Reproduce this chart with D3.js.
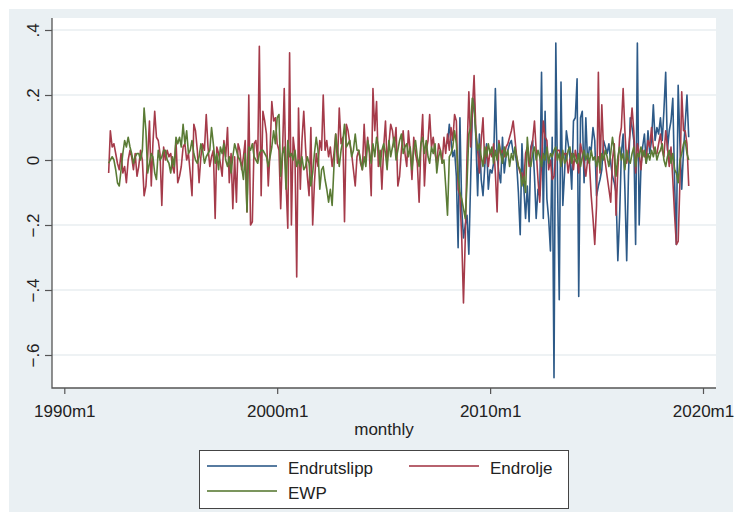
<!DOCTYPE html>
<html>
<head>
<meta charset="utf-8">
<script src="https://cdn.jsdelivr.net/npm/d3@7"></script>
<style>
  body { margin: 0; background: #ffffff; }
  text { font-family: "Liberation Sans", Arial, sans-serif; fill: #222; }
</style>
</head>
<body>
<div id="chart"></div>
<script>
const width = 736;
const height = 512;
const plot = { left: 52, right: 716, top: 18, bottom: 388 };

// DATA
const seriesNames = ["Endrutslipp", "Endrolje", "EWP"];
const seriesColors = ["#2d5a88", "#a53b4a", "#5a7b35"];
const yTicks = [0.4, 0.2, 0, -0.2, -0.4, -0.6];
const xTickYears = [1990, 2000, 2010, 2020];

// first month of each series [year, month]
const endroljeStart = [1992, 2];
const ewpStart = [1992, 2];
const endrutslippStart = [2008, 1];

const endrolje = [
  -0.04, 0.09, 0.04, 0.05, 0.02, -0.01, -0.03, 0.02, -0.04, -0.02, -0.07, 0.00,
  0.03, 0.01, -0.03, 0.02, -0.05, -0.02, 0.03, 0.00, -0.11, -0.08, 0.01, 0.12,
  -0.08, 0.05, 0.15, 0.07, 0.06, 0.02, -0.14, 0.04, 0.00, 0.03, 0.01, 0.02,
  -0.02, -0.04, 0.06, -0.07, -0.05, -0.02, 0.04, 0.05, 0.00, 0.02, -0.04, -0.11,
  0.11, 0.09, 0.03, -0.07, 0.01, 0.05, 0.03, 0.14, 0.04, -0.02, 0.01, 0.03,
  -0.18, 0.04, 0.02, -0.01, -0.05, 0.06, 0.01, 0.10, -0.07, 0.02, -0.15, 0.01,
  -0.13, 0.05, 0.03, -0.03, 0.01, 0.06, -0.16, 0.20, -0.20, -0.19, 0.05, 0.06,
  0.00, 0.35, -0.11, 0.15, 0.12, 0.08, -0.08, 0.03, 0.18, 0.12, 0.13, 0.05,
  0.03, -0.15, 0.02, 0.22, -0.07, -0.21, 0.33, -0.20, 0.07, 0.02, -0.36, 0.16,
  -0.09, 0.06, 0.15, 0.04, -0.05, -0.11, 0.10, -0.20, -0.07, 0.02, -0.02, 0.06,
  0.03, 0.20, 0.03, 0.06, 0.01, 0.04, -0.02, 0.02, 0.08, -0.01, 0.16, 0.05,
  0.07, -0.19, 0.11, 0.09, 0.05, 0.02, -0.03, -0.08, 0.01, 0.03, -0.01, -0.03,
  0.11, 0.00, 0.07, 0.02, -0.11, 0.22, 0.09, 0.18, -0.02, 0.03, -0.09, 0.04,
  0.12, -0.01, 0.05, 0.11, 0.09, 0.04, 0.10, -0.08, -0.05, 0.03, 0.09, 0.02,
  -0.02, 0.09, 0.03, -0.06, 0.07, 0.02, -0.01, -0.13, 0.04, 0.14, -0.08, 0.03,
  0.06, 0.14, 0.04, 0.07, 0.02, -0.01, 0.05, 0.03, -0.01, 0.07, 0.02, 0.08,
  0.03, 0.10, 0.06, 0.14, 0.12, -0.09, -0.11, -0.24, -0.44, -0.24, 0.02, 0.21,
  0.04, 0.15, 0.26, 0.09, 0.03, -0.04, 0.06, 0.13, -0.01, 0.04, -0.02, 0.03,
  0.01, 0.05, -0.04, -0.16, 0.06, 0.02, 0.03, 0.01, 0.04, 0.05, 0.07, 0.09,
  0.12, 0.07, 0.01, -0.02, -0.04, -0.04, -0.07, 0.02, 0.04, -0.02, 0.03, 0.06,
  0.12, 0.03, -0.06, -0.13, -0.01, 0.12, 0.07, 0.06, -0.03, 0.00, -0.06, -0.05,
  0.02, 0.03, 0.03, -0.01, 0.01, 0.02, 0.02, -0.04, 0.00, 0.02, -0.03, 0.03,
  0.00, -0.04, 0.05, 0.02, -0.01, -0.05, 0.00, -0.01, -0.11, -0.18, -0.26, -0.14,
  0.27, -0.04, 0.17, 0.03, -0.01, -0.05, -0.09, -0.13, 0.00, 0.05, -0.17, -0.03,
  0.07, 0.10, 0.22, 0.09, -0.01, 0.03, 0.09, 0.16, 0.09, -0.04, 0.05, 0.02,
  -0.03, 0.03, 0.01, 0.01, 0.06, 0.04, 0.10, 0.04, 0.02, 0.02, 0.05, 0.08,
  0.03, 0.01, 0.09, 0.04, -0.02, 0.04, -0.06, -0.17, -0.26, -0.25, -0.07, 0.21,
  0.09, 0.09, 0.05, -0.08,
];

const ewp = [
  -0.01, 0.00, 0.01, 0.00, -0.03, -0.07, -0.08, -0.03, 0.02, 0.06, 0.04, 0.07,
  0.04, 0.02, -0.01, 0.01, 0.02, 0.02, 0.00, 0.03, 0.16, 0.09, -0.04, -0.01,
  0.02, 0.01, -0.04, -0.06, 0.03, 0.00, 0.01, 0.03, 0.03, 0.00, -0.01, -0.04,
  0.01, -0.02, 0.07, 0.05, 0.07, 0.04, 0.11, 0.05, 0.09, 0.02, 0.03, 0.06,
  0.02, 0.00, -0.01, 0.01, 0.05, 0.03, -0.01, 0.01, 0.02, 0.03, 0.10, 0.05,
  -0.01, 0.02, -0.03, 0.04, 0.02, 0.05, 0.00, -0.02, 0.01, -0.04, 0.01, 0.05,
  0.03, 0.01, 0.00, -0.02, -0.06, 0.02, -0.16, 0.04, 0.03, 0.05, 0.01, 0.00,
  -0.01, 0.02, 0.03, 0.03, 0.02, 0.01, -0.02, 0.01, 0.04, 0.09, 0.05, 0.13,
  0.14, -0.05, 0.02, 0.04, -0.09, 0.06, 0.01, 0.02, 0.00, 0.03, -0.02, 0.00,
  -0.02, 0.01, -0.03, -0.02, 0.01, -0.01, -0.08, -0.04, 0.02, 0.07, 0.03, -0.09,
  -0.03, -0.02, -0.06, -0.09, -0.13, -0.09, -0.14, -0.02, 0.08, 0.03, -0.02, 0.03,
  0.06, 0.11, 0.04, 0.05, 0.06, 0.01, 0.03, 0.08, 0.03, 0.03, 0.00, -0.03,
  0.01, -0.02, 0.06, 0.03, -0.01, 0.05, 0.01, 0.07, 0.04, -0.02, 0.03, 0.05,
  0.02, -0.03, 0.06, 0.01, 0.04, 0.07, 0.00, 0.03, 0.06, 0.08, 0.02, 0.04,
  0.05, 0.01, 0.04, -0.03, 0.03, 0.06, 0.01, -0.02, 0.05, 0.07, 0.02, 0.06,
  0.01, -0.01, 0.04, 0.02, 0.05, -0.04, 0.01, 0.03, -0.01, 0.00, -0.08, -0.17,
  0.01, 0.02, 0.04, 0.09, 0.05, -0.05, -0.10, -0.12, -0.15, -0.18, -0.07, 0.08,
  0.10, 0.19, 0.16, 0.08, 0.03, 0.05, 0.01, -0.02, 0.04, 0.01, 0.05, 0.02,
  0.04, -0.01, 0.03, 0.00, 0.05, 0.02, -0.01, 0.04, 0.01, 0.03, -0.02, 0.02,
  0.00, 0.04, 0.01, -0.02, -0.03, -0.08, -0.05, -0.10, 0.07, 0.00, -0.02, 0.02,
  0.04, 0.00, 0.03, 0.01, -0.02, 0.02, 0.00, 0.04, -0.01, 0.02, 0.01, 0.03,
  0.04, 0.00, 0.02, -0.02, 0.03, -0.01, 0.00, 0.03, 0.04, -0.01, 0.02, 0.00,
  -0.01, 0.02, -0.02, 0.01, 0.03, 0.00, 0.02, -0.01, 0.03, 0.00, 0.01, -0.02,
  0.01, -0.03, 0.02, 0.00, 0.03, 0.01, -0.02, 0.02, 0.07, 0.03, -0.05, 0.01,
  0.04, 0.00, 0.02, -0.03, 0.03, 0.00, -0.01, 0.02, 0.04, -0.02, 0.02, 0.01,
  0.04, 0.01, 0.03, -0.01, 0.02, 0.00, 0.03, 0.01, 0.04, 0.00, 0.02, 0.03,
  0.05, 0.00, -0.02, 0.01, 0.03, -0.01, 0.02, -0.03, -0.04, -0.07, 0.00, 0.02,
  0.05, 0.06, 0.02, 0.00,
];

// one row per year, 2008 .. 2019m5
const endrutslipp = [
  0.05, 0.11, 0.06, 0.01, 0.03, -0.05, -0.27, 0.13, -0.15, -0.24, -0.20, -0.17,
  -0.29, -0.06, 0.14, 0.19, 0.07, -0.11, 0.08, -0.06, -0.11, -0.02, 0.05, -0.09,
  -0.03, -0.04, -0.01, 0.22, 0.01, -0.04, -0.07, 0.07, -0.04, 0.01, 0.03, 0.05,
  0.06, 0.02, 0.03, -0.01, -0.10, -0.23, 0.05, -0.08, -0.18, -0.08, -0.19, 0.04,
  0.06, -0.05, -0.18, -0.09, -0.11, 0.27, -0.18, 0.15, -0.12, -0.18, -0.28, 0.07,
  -0.67, 0.36, -0.05, -0.43, 0.24, -0.14, -0.04, 0.09, 0.05, 0.01, -0.09, 0.12,
  0.13, 0.25, -0.42, 0.13, 0.15, -0.07, 0.13, -0.01, 0.04, 0.03, 0.10, 0.06,
  -0.11, -0.08, -0.06, -0.03, 0.06, 0.04, 0.02, 0.05, -0.01, -0.05, -0.07, -0.10,
  -0.31, -0.17, 0.02, 0.08, -0.09, -0.31, -0.05, 0.13, 0.10, 0.06, -0.26, 0.36,
  -0.20, -0.02, 0.04, 0.08, -0.01, 0.09, 0.02, 0.06, 0.17, 0.06, 0.10, 0.08,
  0.13, 0.06, 0.15, 0.27, 0.03, 0.09, 0.12, 0.19, -0.07, -0.26, 0.23, 0.05,
  -0.09, 0.03, 0.11, 0.20, 0.07,
];

function toMonthly(values, start) {
  return values.map((v, i) => ({
    date: new Date(start[0], start[1] - 1 + i, 1),
    value: v,
  }));
}

const series = [
  toMonthly(endrutslipp, endrutslippStart),
  toMonthly(endrolje, endroljeStart),
  toMonthly(ewp, ewpStart),
];

// SCALES
const xScale = d3
  .scaleTime()
  .domain([new Date(1990, 0, 1), new Date(2020, 0, 1)])
  .range([64.3, 703]);

const yScale = d3.scaleLinear().domain([-0.6, 0.4]).range([355, 30]);

const stataFormat = (d) =>
  d === 0 ? "0" : d3.format(".1f")(d).replace("0.", ".");

// SVG
const svg = d3
  .select("#chart")
  .append("svg")
  .attr("width", width)
  .attr("height", height);

// graph region + plot region
svg
  .append("rect")
  .attr("x", 9)
  .attr("y", 9)
  .attr("width", 724)
  .attr("height", 503)
  .attr("fill", "#eaf0f3");

svg
  .append("rect")
  .attr("x", plot.left)
  .attr("y", plot.top)
  .attr("width", plot.right - plot.left)
  .attr("height", plot.bottom - plot.top)
  .attr("fill", "#ffffff");

// GRID
svg
  .selectAll("line.grid")
  .data(yTicks)
  .enter()
  .append("line")
  .attr("class", "grid")
  .attr("x1", plot.left)
  .attr("x2", plot.right)
  .attr("y1", (d) => yScale(d))
  .attr("y2", (d) => yScale(d))
  .attr("stroke", "#e9eef1")
  .attr("stroke-width", 1.3);

// LINES
const lineGenerator = d3
  .line()
  .x((d) => xScale(d.date))
  .y((d) => yScale(d.value));

svg
  .selectAll("path.series")
  .data(series)
  .enter()
  .append("path")
  .attr("class", "series")
  .attr("d", (d) => lineGenerator(d))
  .attr("fill", "none")
  .attr("stroke", (d, i) => seriesColors[i])
  .attr("stroke-width", 1.6)
  .attr("stroke-linejoin", "round");

// AXES
const yAxis = d3
  .axisLeft(yScale)
  .tickValues(yTicks)
  .tickFormat(stataFormat)
  .tickSize(7)
  .tickSizeOuter(0);

const yAxisG = svg
  .append("g")
  .attr("class", "y-axis")
  .attr("transform", `translate(${plot.left},0)`)
  .call(yAxis);

yAxisG.select(".domain").remove();
yAxisG.selectAll("line").attr("stroke", "#555").attr("stroke-width", 1.2);
yAxisG
  .selectAll("text")
  .attr("x", 0)
  .attr("y", -13)
  .attr("dy", 0)
  .attr("text-anchor", "middle")
  .attr("transform", "rotate(-90)")
  .style("font-size", "17px")
  .attr("fill", "#222");

const xAxis = d3
  .axisBottom(xScale)
  .tickValues(xTickYears.map((y) => new Date(y, 0, 1)))
  .tickFormat((d) => `${d.getFullYear()}m1`)
  .tickSize(6)
  .tickSizeOuter(0);

const xAxisG = svg
  .append("g")
  .attr("class", "x-axis")
  .attr("transform", `translate(0,${plot.bottom})`)
  .call(xAxis);

xAxisG.select(".domain").remove();
xAxisG.selectAll("line").attr("stroke", "#555").attr("stroke-width", 1.2);
xAxisG
  .selectAll("text")
  .attr("y", 17)
  .attr("dy", "0.71em")
  .style("font-size", "17px")
  .attr("fill", "#222");

// axis lines
svg
  .append("path")
  .attr("d", `M${plot.left},${plot.top}V${plot.bottom}H${plot.right}`)
  .attr("fill", "none")
  .attr("stroke", "#555")
  .attr("stroke-width", 1.3);

// AXIS TITLE
svg
  .append("text")
  .text("monthly")
  .attr("x", (plot.left + plot.right) / 2)
  .attr("y", 435)
  .attr("text-anchor", "middle")
  .style("font-size", "17px");

// LEGEND
const legend = svg.append("g").attr("class", "legend");

legend
  .append("rect")
  .attr("x", 199.5)
  .attr("y", 450.5)
  .attr("width", 369)
  .attr("height", 58)
  .attr("fill", "#ffffff")
  .attr("stroke", "#444")
  .attr("stroke-width", 1);

const legendCols = [207, 409];
const legendRows = [466, 491];

const legendItems = legend
  .selectAll("g.item")
  .data(seriesNames)
  .enter()
  .append("g")
  .attr("class", "item")
  .attr(
    "transform",
    (d, i) => `translate(${legendCols[i % 2]},${legendRows[Math.floor(i / 2)]})`
  );

legendItems
  .append("line")
  .attr("x1", 0)
  .attr("x2", 70)
  .attr("y1", 0)
  .attr("y2", 0)
  .attr("stroke", (d, i) => seriesColors[i])
  .attr("stroke-opacity", 0.8)
  .attr("stroke-width", 2);

legendItems
  .append("text")
  .text((d) => d)
  .attr("x", 81)
  .attr("y", 8)
  .style("font-size", "17px");
</script>
</body>
</html>
